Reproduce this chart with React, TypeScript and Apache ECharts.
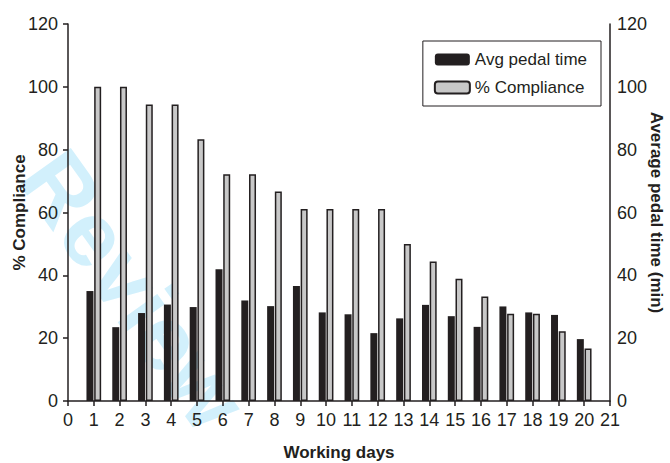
import React, { useEffect, useRef } from "react";
import * as echarts from "echarts";

const days = [1, 2, 3, 4, 5, 6, 7, 8, 9, 10, 11, 12, 13, 14, 15, 16, 17, 18, 19, 20];
const avgPedalTime = [35.0, 23.5, 28.0, 30.7, 29.9, 41.9, 32.0, 30.2, 36.6, 28.2, 27.6, 21.6, 26.3, 30.6, 27.0, 23.6, 30.1, 28.2, 27.4, 19.7];
const compliance = [100, 100, 94.4, 94.4, 83.3, 72.2, 72.2, 66.7, 61.1, 61.1, 61.1, 61.1, 50, 44.4, 38.9, 33.3, 27.8, 27.8, 22.2, 16.7];

const WATERMARK = "Review";
const WM_ADV = [0.722, 0.556, 0.556, 0.278, 0.556, 0.778];

const INK = "#231f20";
const FONT = "'Liberation Sans', Arial, Helvetica, sans-serif";

function watermarkLetters() {
  const fs = 92;
  const ang = 0.95;
  const cx = 134;
  const cy = 290;
  const total = WM_ADV.reduce((a, b) => a + b, 0) * fs;
  const dx = Math.cos(ang);
  const dy = Math.sin(ang);
  let acc = 0;
  return WATERMARK.split("").map((ch, i) => {
    const s = acc + (WM_ADV[i] * fs) / 2 - total / 2;
    acc += WM_ADV[i] * fs;
    return {
      type: "text",
      x: cx + dx * s,
      y: cy + dy * s,
      rotation: -ang,
      z: -10,
      silent: true,
      style: {
        text: ch,
        fontSize: fs,
        fontWeight: "bold",
        fontFamily: FONT,
        fill: "#d2f0fc",
        align: "center",
        verticalAlign: "middle",
      },
    };
  });
}

export default function App() {
  const ref = useRef<HTMLDivElement>(null);
  useEffect(() => {
    if (!ref.current) return;
    const chart = echarts.init(ref.current, undefined, { renderer: "svg" });
    chart.setOption({
      animation: false,
      backgroundColor: "#ffffff",
      textStyle: { fontFamily: FONT, color: INK },
      graphic: watermarkLetters(),
      grid: { left: 68, right: 60, top: 24, bottom: 62, outerBoundsMode: "none", containLabel: false },
      legend: {
        orient: "vertical",
        right: 69,
        top: 41,
        borderColor: INK,
        borderWidth: 1,
        borderRadius: 0,
        padding: [10, 14, 10, 11],
        itemGap: 11,
        itemWidth: 35,
        itemHeight: 12,
        textStyle: { fontSize: 17, color: INK, fontFamily: FONT },
        data: ["Avg pedal time", "% Compliance"],
      },
      xAxis: {
        type: "value",
        min: 0,
        max: 21,
        interval: 1,
        name: "Working days",
        nameLocation: "middle",
        nameGap: 43,
        nameMoveOverlap: false,
        nameTextStyle: { fontSize: 17, fontWeight: "bold", color: INK, fontFamily: FONT },
        axisLine: { show: true, onZero: false, lineStyle: { color: INK, width: 1.5 } },
        axisTick: { show: true, length: 5, lineStyle: { color: INK, width: 1.5 } },
        axisLabel: { fontSize: 18, color: INK, margin: 10, fontFamily: FONT },
        splitLine: { show: false },
      },
      yAxis: [
        {
          type: "value",
          min: 0,
          max: 120,
          interval: 20,
          position: "left",
          name: "% Compliance",
          nameLocation: "middle",
          nameRotate: 90,
          nameGap: 40,
          nameMoveOverlap: false,
          nameTextStyle: { fontSize: 17, fontWeight: "bold", color: INK, fontFamily: FONT },
          axisLine: { show: true, lineStyle: { color: INK, width: 1.5 } },
          axisTick: { show: true, length: 5, lineStyle: { color: INK, width: 1.5 } },
          axisLabel: { fontSize: 18, color: INK, margin: 10, fontFamily: FONT },
          splitLine: { show: false },
        },
        {
          type: "value",
          min: 0,
          max: 120,
          interval: 20,
          position: "right",
          name: "Average pedal time (min)",
          nameLocation: "middle",
          nameRotate: -90,
          nameGap: 38,
          nameMoveOverlap: false,
          nameTextStyle: { fontSize: 17, fontWeight: "bold", color: INK, fontFamily: FONT },
          axisLine: { show: true, lineStyle: { color: INK, width: 1.5 } },
          axisTick: { show: false },
          axisLabel: { fontSize: 18, color: INK, margin: 7, fontFamily: FONT },
          splitLine: { show: false },
        },
      ],
      series: [
        {
          name: "Avg pedal time",
          type: "bar",
          yAxisIndex: 1,
          barWidth: 7,
          barGap: "10%",
          itemStyle: { color: INK },
          data: days.map((d, i) => [d, avgPedalTime[i]]),
        },
        {
          name: "% Compliance",
          type: "bar",
          yAxisIndex: 0,
          barWidth: 7,
          barGap: "10%",
          itemStyle: { color: "#c8c8c8", borderColor: INK, borderWidth: 1.5 },
          data: days.map((d, i) => [d, compliance[i]]),
        },
      ],
    });
    return () => chart.dispose();
  }, []);
  return <div ref={ref} style={{ width: 670, height: 463, position: "absolute", left: 0, top: 0 }} />;
}
